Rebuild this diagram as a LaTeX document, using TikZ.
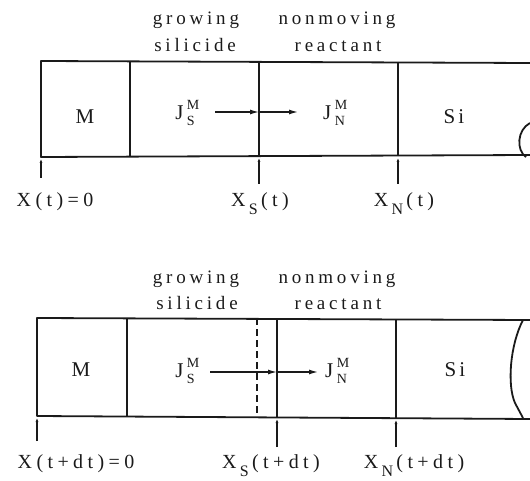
\documentclass[tikz,border=0pt]{standalone}
\usepackage{fontspec}
\setmainfont{Liberation Serif}
\usetikzlibrary{arrows.meta}
\definecolor{scanink}{HTML}{1A1A1A}
\newcommand{\lowsub}[1]{\,\raisebox{-0.4em}{\fontsize{16}{16}\selectfont #1}\,}
\newcommand{\fluxsym}[1]{J\,\rlap{\raisebox{0.5em}{\fontsize{14}{14}\selectfont M}}\raisebox{-0.3em}{\fontsize{14}{14}\selectfont #1}}

\begin{document}
\begin{tikzpicture}[
  x=1pt,
  y=-1pt,
  line join=round,
  layer/.style={draw=scanink,line width=1.8pt},
  front/.style={draw=scanink,line width=1.8pt,dash pattern=on 7pt off 4pt},
  flux/.style={draw=scanink,line width=1.3pt,-{Latex[length=9pt,width=5pt]}},
  marker/.style={draw=scanink,line width=1.1pt,-{Latex[length=4pt,width=3pt]}},
  word/.style={text=scanink,inner sep=0pt,anchor=base,
    font=\fontsize{19}{21}\selectfont\addfontfeature{LetterSpace=20}},
  phase/.style={text=scanink,inner sep=0pt,font=\fontsize{21}{23}\selectfont},
  poslabel/.style={text=scanink,inner sep=0pt,anchor=base,
    font=\fontsize{20}{22}\selectfont\addfontfeature{LetterSpace=22}}
]
  % Match the original artwork frame.
  \useasboundingbox (0,0) rectangle (530,481);

  % Upper sketch: layer stack at time t.
  \coordinate (topL) at (41,61);
  \coordinate (topR) at (530,63);
  \coordinate (botL) at (41,157);
  \coordinate (botR) at (530,155);
  \coordinate (ifaceS) at (259,112);
  \coordinate (fluxIn) at (215,112);
  \coordinate (fluxOut) at (298,112);

  \draw[layer] (topR) -- (topL) -- (botL) -- (botR);
  \draw[layer] (130,61) -- (130,157);
  \draw[layer] (259,62) -- (259,156);
  \draw[layer] (398,62) -- (398,156);
  \draw[layer] (530,123) .. controls (517,130) and (516,150) .. (526,157);

  \node[word] (growA) at (196,25) {growing};
  \node[word] (siliA) at (195,52) {silicide};
  \node[word] (nonA) at (337,25) {nonmoving};
  \node[word] (reacA) at (338,52) {reactant};

  \node[phase] (metalA) at (85,117) {M};
  \node[phase] (jsA) at (185,113) {\fluxsym{S}};
  \node[phase] (jnA) at (334,113) {\fluxsym{N}};
  \node[phase] (siA) at (454,117) {\addfontfeature{LetterSpace=15}Si};
  \draw[flux] (fluxIn) -- (ifaceS);
  \draw[flux] (ifaceS) -- (fluxOut);

  \node[poslabel] (xzeroA) at (55,207) {X(t)=0};
  \node[poslabel] (xsA) at (260,207) {X\lowsub{S}(t)};
  \node[poslabel] (xnA) at (404,207) {X\lowsub{N}(t)};
  \draw[marker] (41,178) -- (41,159);
  \draw[marker] (259,184) -- (259,158);
  \draw[marker] (398,184) -- (398,158);

  % Lower sketch: same stack after dt, old interface dashed.
  \coordinate (topL2) at (37,318);
  \coordinate (topR2) at (530,320);
  \coordinate (botL2) at (37,416);
  \coordinate (botR2) at (530,419);
  \coordinate (ifaceS2) at (277,372);
  \coordinate (fluxIn2) at (210,372);
  \coordinate (fluxOut2) at (318,372);

  \draw[layer] (topR2) -- (topL2) -- (botL2) -- (botR2);
  \draw[layer] (127,318) -- (127,416);
  \draw[front] (257,318) -- (257,417);
  \draw[layer] (277,319) -- (277,417);
  \draw[layer] (396,319) -- (396,418);
  \draw[layer] (523,320) .. controls (510,345) and (507,385) .. (515,403) -- (523,418);

  \node[word] (growB) at (196,283) {growing};
  \node[word] (siliB) at (197,309) {silicide};
  \node[word] (nonB) at (337,283) {nonmoving};
  \node[word] (reacB) at (338,309) {reactant};

  \node[phase] (metalB) at (81,370) {M};
  \node[phase] (jsB) at (185,371) {\fluxsym{S}};
  \node[phase] (jnB) at (336,371) {\fluxsym{N}};
  \node[phase] (siB) at (455,370) {\addfontfeature{LetterSpace=15}Si};
  \draw[flux] (fluxIn2) -- (ifaceS2);
  \draw[flux] (ifaceS2) -- (fluxOut2);

  \node[poslabel] (xzeroB) at (76,468) {X(t+dt)=0};
  \node[poslabel] (xsB) at (271,468) {X\lowsub{S}(t+dt)};
  \node[poslabel] (xnB) at (414,468) {X\lowsub{N}(t+dt)};
  \draw[marker] (37,441) -- (37,418);
  \draw[marker] (277,447) -- (277,419);
  \draw[marker] (396,447) -- (396,420);
\end{tikzpicture}
\end{document}
